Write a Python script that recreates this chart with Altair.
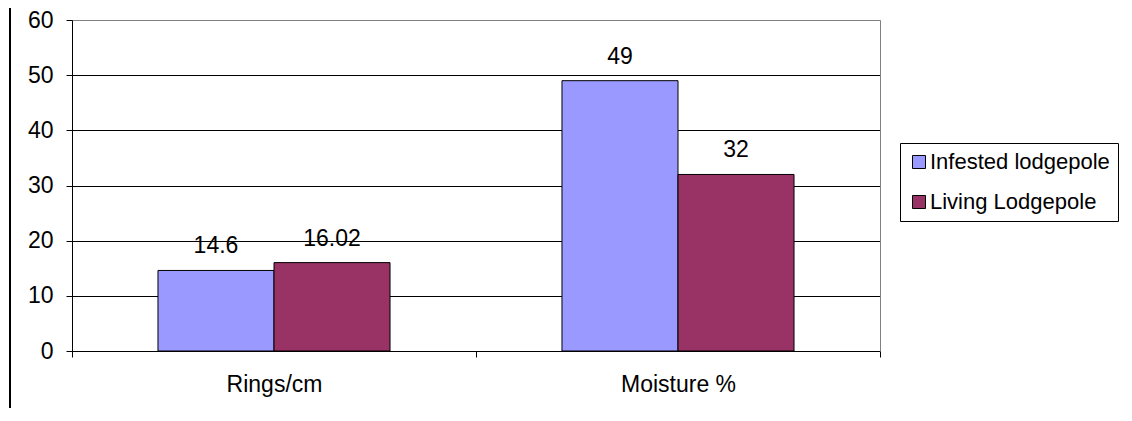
import altair as alt
import pandas as pd

categories = ["Rings/cm", "Moisture %"]
series = ["Infested lodgepole", "Living Lodgepole"]
infested = [14.6, 49]
living = [16.02, 32]
colors = ["#9999FF", "#993366"]
y_ticks = [0, 10, 20, 30, 40, 50, 60]

rows = []
for i, c in enumerate(categories):
    rows.append({"category": c, "series": series[0], "value": infested[i]})
    rows.append({"category": c, "series": series[1], "value": living[i]})
df = pd.DataFrame(rows)

FONT = "Liberation Sans"
FS = 23

x_enc = alt.X(
    "category:N",
    sort=categories,
    scale=alt.Scale(paddingInner=0, paddingOuter=0),
    axis=alt.Axis(
        title=None, labelAngle=0, labelFontSize=FS, labelFont=FONT,
        labelColor="black", domainColor="black", tickColor="black",
        tickSize=6, tickBand="extent", labelPadding=16, grid=False,
    ),
)
xoff = alt.XOffset(
    "series:N", sort=series,
    scale=alt.Scale(paddingInner=0, paddingOuter=0.741),
)

bars = alt.Chart(df).mark_bar(stroke="black", strokeWidth=1).encode(
    x=x_enc,
    xOffset=xoff,
    y=alt.Y(
        "value:Q",
        scale=alt.Scale(domain=[0, 60], nice=False),
        axis=alt.Axis(
            title=None, values=y_ticks, labelFontSize=FS, labelFont=FONT,
            labelColor="black", domainColor="black", tickColor="black",
            tickSize=6, labelPadding=13,
            gridColor={"condition": {"test": "datum.value == 60", "value": "#808080"}, "value": "black"},
            grid=True, gridWidth=1,
        ),
    ),
    color=alt.Color(
        "series:N", sort=series,
        scale=alt.Scale(domain=series, range=colors),
        legend=alt.Legend(
            title=None, orient="none", legendX=828, legendY=123,
            symbolType="square", symbolSize=169, symbolStrokeColor="black",
            symbolStrokeWidth=1, symbolOpacity=1, labelFontSize=22,
            labelFont=FONT, labelColor="black", labelOffset=0, labelLimit=400,
            rowPadding=18, padding=8, strokeColor="black", fillColor="white",
        ),
    ),
)

labels = alt.Chart(df).mark_text(
    baseline="alphabetic", dy=-17, fontSize=FS, font=FONT, color="black"
).encode(
    x=x_enc,
    xOffset=xoff,
    y=alt.Y(
        "value:Q",
        scale=alt.Scale(domain=[0, 60], nice=False),
        axis=alt.Axis(
            orient="right", title=None, labels=False, ticks=False,
            grid=False, domainColor="#808080", values=y_ticks,
        ),
    ),
    text=alt.Text("value:Q"),
)

frame = alt.Chart(df).mark_rule(color="black", strokeWidth=2).encode(
    x=alt.value(-62), y=alt.value(-12), y2=alt.value(388)
)

chart = alt.layer(bars, labels, frame).resolve_axis(y="independent").properties(
    width=808,
    height=331,
    autosize=alt.AutoSizeParams(type="none"),
    padding={"left": 64, "top": 12, "right": 244, "bottom": 57},
).configure_view(stroke=None).configure(background="white")

chart.save("out.html", embed_options={"renderer": "svg", "actions": False})
